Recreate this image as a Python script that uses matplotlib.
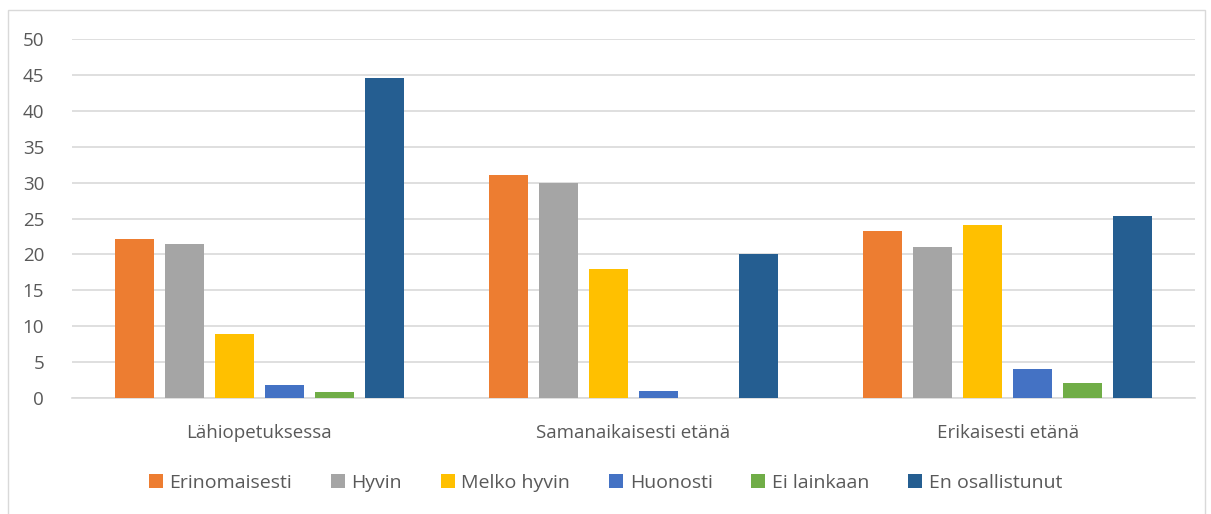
import matplotlib
matplotlib.use("Agg")
import matplotlib.pyplot as plt
import numpy as np
from matplotlib.patches import Rectangle

categories = ["Lähiopetuksessa", "Samanaikaisesti etänä", "Erikaisesti etänä"]
series_names = ["Erinomaisesti", "Hyvin", "Melko hyvin", "Huonosti", "Ei lainkaan", "En osallistunut"]
erinomaisesti = [22.2, 31.0, 23.2]
hyvin = [21.4, 30.0, 21.0]
melko_hyvin = [8.9, 18.0, 24.1]
huonosti = [1.8, 1.0, 4.1]
ei_lainkaan = [0.9, 0.0, 2.1]
en_osallistunut = [44.5, 20.0, 25.3]
yticks = [0, 5, 10, 15, 20, 25, 30, 35, 40, 45, 50]

colors = ["#ED7D31", "#A5A5A5", "#FFC000", "#4472C4", "#70AD47", "#255E91"]
data = [erinomaisesti, hyvin, melko_hyvin, huonosti, ei_lainkaan, en_osallistunut]

plt.rcParams['font.family'] = ['Open Sans', 'DejaVu Sans']
fig = plt.figure(figsize=(12.11, 5.14), dpi=100)
W, H = 1211, 514
ax = fig.add_axes([72 / W, 1 - 398 / H, (1195 - 72) / W, (398 - 39) / H])

x = np.arange(len(categories))
step = 0.1337
width = 0.104
for i, (name, vals, c) in enumerate(zip(series_names, data, colors)):
    ax.bar(x + (i - 2.5) * step, vals, width=width, color=c, label=name, zorder=3)

ax.set_xlim(-0.5, 2.5)
ax.set_ylim(0, 50)
ax.set_yticks(yticks)
ax.set_yticklabels([str(t) for t in yticks])
ax.set_xticks(x)
ax.set_xticklabels(categories)
ax.yaxis.grid(True, color="#D9D9D9", linewidth=1.2, zorder=0)
for s in ["top", "right", "left"]:
    ax.spines[s].set_visible(False)
ax.spines["bottom"].set_color("#D9D9D9")
ax.spines["bottom"].set_linewidth(1.2)
ax.tick_params(axis="both", length=0, labelsize=13.5, colors="#595959")
ax.tick_params(axis="y", pad=20)
ax.tick_params(axis="x", pad=19)

leg = fig.legend(loc="center", bbox_to_anchor=(0.5, 1 - 483 / H), ncol=6, frameon=False,
                 fontsize=14, handlelength=0.7, handleheight=0.7, handletextpad=0.35,
                 columnspacing=2.0)
for t in leg.get_texts():
    t.set_color("#595959")

fig.patches.append(Rectangle((8 / W, -0.1), (1205 - 8) / W, 1 - 10 / H + 0.1,
                             transform=fig.transFigure, fill=False,
                             edgecolor="#D9D9D9", linewidth=1))

fig.savefig("out.png", dpi=100, facecolor="white")
